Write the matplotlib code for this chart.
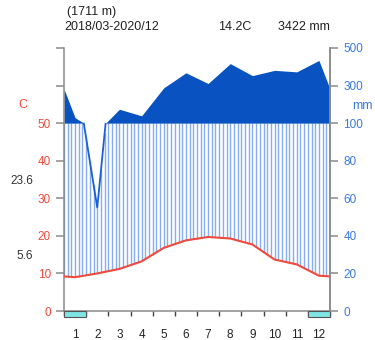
# Walter-Lieth climate diagram (1711 m, 2018/03-2020/12)

import numpy as np
import matplotlib
matplotlib.use('Agg')
import matplotlib.pyplot as plt
from matplotlib.patches import Rectangle

plt.rcParams['font.family'] = ['Liberation Sans', 'DejaVu Sans']

months = ['1', '2', '3', '4', '5', '6', '7', '8', '9', '10', '11', '12']
temp = [9.0, 10.0, 11.2, 13.2, 16.8, 18.8, 19.7, 19.3, 17.7, 13.7, 12.4, 9.4]  # C
precip = [129, 55, 174, 139, 288, 368, 311, 417, 353, 381, 373, 434]  # mm
frost = [1, 12]  # months with probable frost
left_labels = ['0', '10', '20', '30', '40', '50', '', '']
right_labels = ['0', '20', '40', '60', '80', '100', '300', '500']

red = '#ef4a3b'
blue = '#3a7ae0'
dark_blue = '#0852c2'
hatch_blue = '#86adef'
grey = '#8a8a8a'

fig = plt.figure(figsize=(3.75, 3.4), dpi=100)
ax = fig.add_axes([64 / 375, 1 - 311 / 340, 266 / 375, 263 / 340])
ax.set_xlim(0, 12)
ax.set_ylim(0, 70)

# month midpoints, with edge values averaged from Dec & Jan
xl = np.concatenate([[0], np.arange(12) + 0.5, [12]])
tl = np.concatenate([[(temp[0] + temp[-1]) / 2], temp, [(temp[0] + temp[-1]) / 2]])
pl = np.concatenate([[(precip[0] + precip[-1]) / 2], precip, [(precip[0] + precip[-1]) / 2]])

xi = np.linspace(0, 12, 2401)
ti = np.interp(xi, xl, tl)
pi = np.interp(xi, xl, pl)

# precipitation above 100 mm, compressed scale
pu = np.where(pi > 100, 50 + (pi - 100) / 20, 50)
ax.fill_between(xi, 50, pu, color=dark_blue, lw=0, zorder=2)

# humid period: vertical lines
xs = np.arange(0, 12.001, 1 / 6)
ts = np.interp(xs, xl, tl)
ps = np.minimum(np.interp(xs, xl, pl) / 2, 50)
m = ps > ts
ax.vlines(xs[m], ts[m], ps[m], color=hatch_blue, lw=1.0, zorder=1)

# precipitation line below 100 mm
pb = np.ma.masked_where(pi / 2 >= 50, pi / 2)
ax.plot(xi, pb, color='#1c5fd4', lw=1.3, zorder=3)

# temperature
ax.plot(xl, tl, color=red, lw=1.5, zorder=4)

# frost months
for f in frost:
    ax.add_patch(Rectangle((f - 1, -1.6), 1, 1.6, facecolor='#7fe6e4',
                           edgecolor='#555555', lw=0.8, clip_on=False, zorder=5))

# axes styling
ax.spines['top'].set_visible(False)
for s in ['left', 'right', 'bottom']:
    ax.spines[s].set_color(grey)
    ax.spines[s].set_linewidth(1.1)

ax.set_yticks(range(0, 71, 10))
ax.set_yticklabels(left_labels)
ax.tick_params(axis='y', colors=grey, labelcolor=red, length=5.5, width=1.1,
               pad=4, labelsize=8.5)

ax2 = ax.twinx()
ax2.set_ylim(0, 70)
ax2.set_yticks(range(0, 71, 10))
ax2.set_yticklabels(right_labels)
ax2.tick_params(axis='y', colors=grey, labelcolor=blue, length=5.5, width=1.1,
                pad=4, labelsize=8.5)
for s in ['top', 'left', 'bottom']:
    ax2.spines[s].set_visible(False)
ax2.spines['right'].set_color(grey)
ax2.spines['right'].set_linewidth(1.1)

ax.set_xticks(range(13))
ax.set_xticklabels([])
ax.set_xticks(np.arange(12) + 0.5, minor=True)
ax.set_xticklabels(months, minor=True)
ax.tick_params(axis='x', which='major', colors='#444444', length=3.6, width=1)
ax.tick_params(axis='x', which='minor', length=0, pad=13, labelsize=8.5,
               labelcolor='#222222')

# labels
fig.text(23 / 375, 1 - 105 / 340, 'C', color=red, fontsize=9, ha='center', va='center')
fig.text(362 / 375, 1 - 106 / 340, 'mm', color=blue, fontsize=9, ha='center', va='center')
fig.text(22 / 375, 1 - 181 / 340, '23.6', color='#333333', fontsize=8.5, ha='center', va='center')
fig.text(25 / 375, 1 - 256 / 340, '5.6', color='#333333', fontsize=8.5, ha='center', va='center')

fig.text(67 / 375, 1 - 12 / 340, '(1711 m)', fontsize=9, color='#222222', va='center')
fig.text(64 / 375, 1 - 27 / 340, '2018/03-2020/12', fontsize=9, color='#222222', va='center')
fig.text(235 / 375, 1 - 27 / 340, '14.2C', fontsize=9, color='#222222', ha='center', va='center')
fig.text(330 / 375, 1 - 27 / 340, '3422 mm', fontsize=9, color='#222222', ha='right', va='center')

fig.savefig('out.png', dpi=100)
